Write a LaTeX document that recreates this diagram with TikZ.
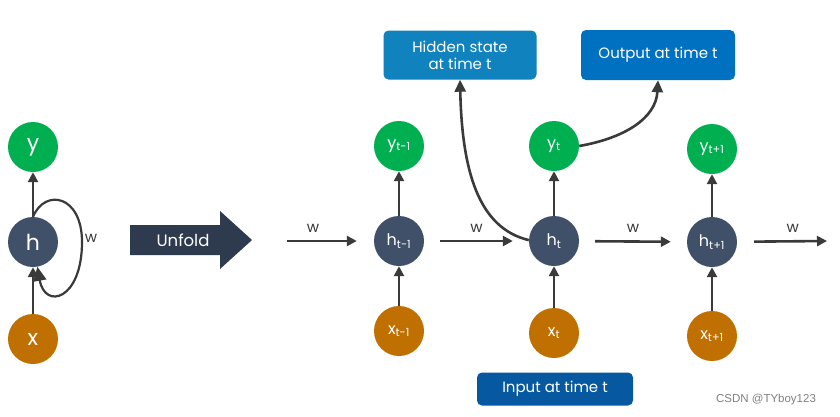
\documentclass[tikz,border=0pt]{standalone}
\usepackage{fontspec}
\setmainfont{Poppins}
\newfontfamily\wmfont{Liberation Sans}
\usetikzlibrary{arrows.meta}
\definecolor{cgreen}{RGB}{0,176,80}
\definecolor{cnavy}{RGB}{64,80,104}
\definecolor{corange}{RGB}{192,112,0}
\definecolor{cdark}{RGB}{46,58,78}
\definecolor{carrow}{RGB}{58,58,58}
\definecolor{cboxa}{RGB}{16,130,190}
\definecolor{cboxb}{RGB}{0,112,192}
\definecolor{cboxc}{RGB}{6,88,160}
\begin{document}
\begin{tikzpicture}[x=1pt,y=-1pt,
  unit/.style={circle, minimum size=50pt, inner sep=0pt, text=white, font=\fontsize{16}{18}\selectfont},
  bigunit/.style={unit, font=\fontsize{22}{24}\selectfont},
  yfill/.style={fill=cgreen},
  hfill/.style={fill=cnavy},
  xfill/.style={fill=corange},
  arr/.style={draw=carrow, line width=2.6pt, -{Triangle[length=10pt,width=10pt]}},
  curvearr/.style={draw=carrow, line width=2.6pt, -{Triangle[length=12pt,width=11pt]}},
  wlabel/.style={font=\fontsize{15}{17}\selectfont, text=carrow},
  infobox/.style={rounded corners=5pt, text=white, align=center, inner sep=0pt, font=\fontsize{15}{17}\selectfont}
]
\useasboundingbox (0,0) rectangle (840,416);
\fill[white] (0,0) rectangle (840,416);

% folded network
\node[bigunit,yfill] (y) at (33,147) {y};
\node[bigunit,hfill] (h) at (33,242) {h};
\node[bigunit,xfill] (x) at (33,339) {x};
\draw[arr] (h) -- (y);
\draw[arr] (x) -- (h);
\coordinate (loopR) at (82,242);
\draw[draw=carrow, line width=2.2pt, -{Triangle[length=14pt,width=13pt]}]
  (h.north) .. controls (45,188) and (82,195) .. (loopR)
  .. controls (82,300) and (45,310) .. (h.-80);
\node[wlabel] (wl) at (91,238) {w};

% unfold arrow
\fill[cdark] (130,225) -- (220,225) -- (220,211) -- (252,240) -- (220,269) -- (220,255) -- (130,255) -- cycle;
\node[text=white, font=\fontsize{16.5}{18}\selectfont] (unfold) at (183,240) {Unfold};

% unfolded network
\node[unit,yfill] (y1) at (399,146) {y\textsubscript{t-1}};
\node[unit,hfill] (h1) at (399,241) {h\textsubscript{t-1}};
\node[unit,xfill] (x1) at (399,331) {x\textsubscript{t-1}};
\node[unit,yfill] (y2) at (554,146) {y\textsubscript{t}};
\node[unit,hfill] (h2) at (554,241) {h\textsubscript{t}};
\node[unit,xfill] (x2) at (554,333) {x\textsubscript{t}};
\node[unit,yfill] (y3) at (712,149) {y\textsubscript{t+1}};
\node[unit,hfill] (h3) at (712,242) {h\textsubscript{t+1}};
\node[unit,xfill] (x3) at (712,336) {x\textsubscript{t+1}};

\foreach \i in {1,2,3}{
  \draw[arr] (x\i) -- (h\i);
  \draw[arr] (h\i) -- (y\i);
}

\coordinate (in0) at (287,241);
\coordinate (out4) at (827,241);
\draw[arr, shorten >=17pt] (in0) -- (h1) node[wlabel, pos=0.3, above=4pt] {w};
\draw[arr, shorten <=16pt, shorten >=16pt] (h1) -- (h2) node[wlabel, midway, above=4pt] {w};
\draw[arr, shorten <=16pt, shorten >=16pt] (h2) -- (h3) node[wlabel, midway, above=4pt] {w};
\draw[arr, shorten <=17pt] (h3) -- (out4) node[wlabel, pos=0.62, above=4pt] {w};

% info boxes
\node[infobox, fill=cboxa, minimum width=153pt, minimum height=49pt] (hid) at (460,55) {Hidden state\\at time t};
\node[infobox, fill=cboxb, minimum width=154pt, minimum height=50pt] (outb) at (658,55) {Output at time t};
\node[infobox, fill=cboxc, minimum width=156pt, minimum height=33pt] (inb) at (555,389) {Input at time t};

\draw[curvearr] (h2.178) .. controls (478,228) and (462,170) .. (hid.south);
\draw[curvearr] (y2.east) .. controls (625,138) and (656,118) .. (outb.south);

% watermark
\node[text=gray, font=\wmfont\fontsize{11.5}{13}\selectfont] (wm) at (766,400) {CSDN @TYboy123};
\end{tikzpicture}
\end{document}
